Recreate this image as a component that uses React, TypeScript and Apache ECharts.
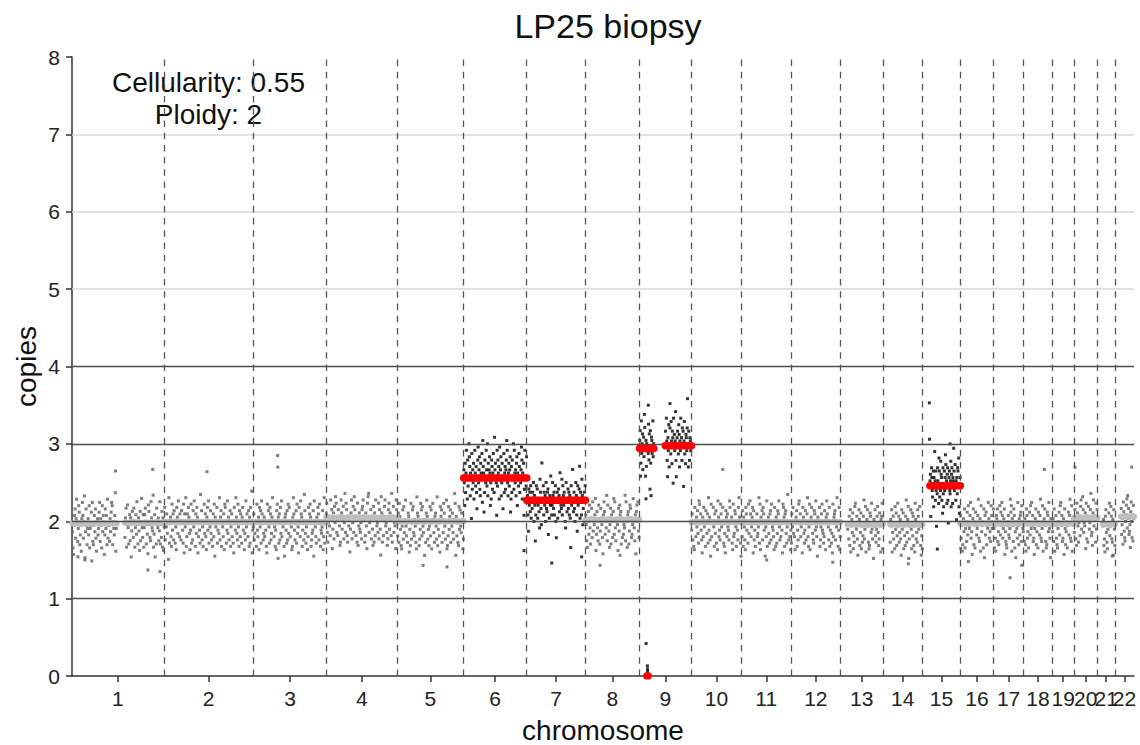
import React, { useEffect, useRef } from "react";
import * as echarts from "echarts";

// ---------------- data ----------------
const titleText = "LP25 biopsy";
const annotationLines = ["Cellularity: 0.55", "Ploidy: 2"];

const chromosomeNames = ["1","2","3","4","5","6","7","8","9","10","11","12","13","14","15","16","17","18","19","20","21","22"];
const chromosomeLengthsMb = [249.25, 243.2, 198.02, 191.15, 180.92, 171.12, 159.14, 146.36, 141.21, 135.53, 135.01, 133.85, 115.17, 107.35, 102.53, 90.35, 81.2, 78.08, 59.13, 63.03, 48.13, 51.3];

// copy-number segments (positions within chromosome, Mb)
const segmentChrom   = [1, 1, 2, 3, 4, 5, 6, 7, 8, 9, 9, 9, 9, 10, 11, 12, 13, 14, 15, 16, 17, 18, 19, 20, 21, 22];
const segmentStartMb = [0.5, 143, 0, 0, 0, 0, 0, 0, 0, 0.5, 20.5, 23.5, 70.5, 0, 0, 0, 19, 19, 20, 0, 0, 0, 0, 0, 14.5, 16];
const segmentEndMb   = [121, 249, 243.2, 198, 191, 180.9, 171.1, 159.1, 146.3, 20.5, 23.5, 39, 141, 135.5, 135, 133.8, 115.1, 107.3, 102.5, 90.3, 81.2, 78, 59.1, 63, 48.1, 51.3];
const segmentCopies  = [1.97, 1.98, 1.99, 1.99, 2.045, 2.0, 2.56, 2.27, 2.02, 2.94, 0.0, 2.94, 2.975, 1.99, 1.99, 1.99, 1.96, 1.96, 2.46, 1.97, 1.97, 1.97, 1.97, 2.045, 1.96, 2.06];
const segmentAltered = [0, 0, 0, 0, 0, 0, 1, 1, 0, 1, 1, 1, 1, 0, 0, 0, 0, 0, 1, 0, 0, 0, 0, 0, 0, 0];

// bin copy values around each segment, one base-36 character per bin:
// copies = segment copies + (code - 17.5) * 0.042
const segmentBinCodes = [
  "fa8hkmdjpicgnlbeh9jokdiq7fmhbgjenaghl6ocbhkfmd9ijeglocjhanfki8emgkbpdhhcjflonbigekr9g",
  "djmahngbhkcj7flidmiagkeohbjf9lchpgdkagkmibhe8nlhdcojgfqaek7ibmhgjcfobhdlaj9",
  "gmcigkeh6pbhjdanfkclibg9mjeohdkiclhfbn8kgpadkhmje9fnbiclgohakemj8dhfbqilcgahnekd9jmfobiglechakdn7jghmbfiepcjlahgdk9nmibfoejchlagkdib8mhfpjecngaldkhbjmfi9ecogkhdlajbmhr8fg",
  "kcehianfdj9mglbokhcejdifa8nhlgbmkcejphidgaf9lnhjbkcmeodigha7jkfblcnemhdig9ajpkfchlbneg8midokjafhcqlebgi9dmhknjacefl7ohgdbjimkcnhafegl9dpbjhk",
  "mdagifcnhk8ejblgomdhckif9anjehlbgpdmkcaifh7ejnbgldokicham9fjedgbklnhiacjf8mopdghkbie9lajcnhfgdmbke6ojaichlnfgd9bkmejhcpaildgf8nk",
  "hdkbnjfa9glcmeiogdhbkj8fanchlmedigb9pkjhacfnldmgei7hbkojcfagmdl9hniebjkgcpafhd8mjlbienkgcho9admfjlbhgkeciqn7jdhbamflgeki9c",
  "kg9mdjqhbnfisolcjh5pekgmbhqjfld8inrgkoecmjhpatlj7dnhgqkfscmhkoj9gbnlejpidukmhg6qfnjlbrhkocgmi8hpdjlekntqgcjmfko7bldnihseqjgkcmo9jhfpldigkrnbjhm6eqihfo",
  "hjd8lgkemcifkhnbjg5dmilcghe9okfatihmdkgjbnfekl7hcjgpidgnjfkdhmb6ikchljeqigfodmjgkhb9niehlfkdjc3mgirhekfbhnjd8mgilsckhdojafhkbm",
  "jgb9hkdmfailcnehgjo8dkfbmhaeligc7jnkdhfpbmie9glajhckodnfbhig8lemjkaichdgfpbnh9jkaemlicdgohfbj7kmhnec",
  "kn9dqgjmbilfsoh9kcj",
  "",
  "gpemi5nd3lkgiqfj",
  "mhqjd8kgobinhfpjcmk6qhlgjsd8ikmhfolbjgqhkdnim5jpfhclkgnwibmhdkjgi",
  "fkcia9mhdjglebonhkfc8jdmgialhekbpfjc7ndhimgakelbh9ojdfcnkgimhbae8ljdkgfcomhijb9ndelkgahfcmpjib7",
  "hdlajgc9mkfibnehokdgjm8lcfahikdegpbn9jhlcmkfi7gdoahjebklcnigfd9mhajbelkogcidhf8nmjaklebgqhcid9f",
  "bkgmeid9hjlafcnohkdgi8mjebflchkpdagn9ijmhecblkfogd7jhimacgknfebdlh9jokigcmafhbe8ndjklcigphafm9d",
  "gidkbm9hjflaecnohgkd8imjbflahcekpdgn9ijmhcablkfogdi7jhmecgknfbdlh9jkoa",
  "cjhm9fkdianglbeohkcfjd8mgilahebkpcfjn7dhimgalekbh9ojdfcmkginhb8ea",
  "jl8hnkgeimbkhsjdmg5ifnjhcqmeigplkdh9nfbimgkrohjclnd6hkmgfjpblnhckjtmgiohdj7kfnmhqb9ik",
  "kdh9bjfmagiclenhgkodf8jmbialhegkpdcj9nfhiam7kelbhgojdfcnkgim",
  "gahd9kjmcfbinelhokdgjm8fcbahikedgpln9jhcmkaf7igdohbjeklcnigf",
  "hcjb9mkdfailengohkcd8gjmbfialhekpdcgn9ijmhcablkfogd7jhi",
  "fjcm9hkdbagilenohkcdj8mgbfiahlekpdcn9jhi",
  "dkhb9mjfagiclnehokdgfj8mbialhegkpcd9jnfhiamek",
  "hjbd9kmfcagiloehnkdcj8mgb",
  "kcfh9mjdbagilneohkcdf8jmgbialh",
];

// isolated bins far from their segment
const outlierChrom   = [1, 1, 1, 1, 1, 1, 2, 3, 3, 3, 5, 5, 6, 7, 7, 8, 8, 9, 9, 9, 9, 9, 9, 9, 10, 11, 12, 14, 15, 15, 15, 15, 16, 16, 17, 17, 18, 20, 21, 22];
const outlierPosMb   = [118, 35, 16, 206, 239, 219, 117, 65.5, 66, 66.5, 70.7, 135.8, 163.5, 67.7, 149, 39.6, 94, 18, 24.3, 18.3, 21.8, 22.0, 22.2, 83, 85, 68.7, 112.8, 69, 18.6, 19.0, 40.2, 74.8, 1, 21.8, 44.6, 76.3, 56.5, 2.5, 40.7, 45];
const outlierCopies  = [2.65, 1.5, 1.54, 1.37, 1.35, 2.67, 2.64, 2.85, 2.7, 1.52, 1.43, 1.41, 1.62, 1.46, 1.54, 1.43, 1.56, 2.29, 3.5, 0.42, 0.13, 0.09, 0.06, 3.52, 2.67, 1.5, 1.47, 1.45, 3.53, 3.06, 1.64, 3.0, 1.65, 1.48, 1.27, 1.43, 2.67, 2.7, 1.55, 2.7];
const outlierAltered = [0, 0, 0, 0, 0, 0, 0, 0, 0, 0, 0, 0, 1, 1, 1, 0, 0, 1, 1, 1, 1, 1, 1, 1, 0, 0, 0, 0, 1, 1, 1, 1, 0, 0, 0, 0, 0, 0, 0, 0];

const copyTicksDark = [1, 2, 3, 4];
const copyTicksLight = [5, 6, 7];

// ---------------- derived ----------------
const FONT = '"Liberation Sans", Arial, Helvetica, sans-serif';
const CODE_CENTER = 17.5;
const CODE_STEP = 0.042;

const chromOffsets: number[] = [];
{
  let acc = 0;
  chromosomeLengthsMb.forEach((l) => {
    chromOffsets.push(acc);
    acc += l;
  });
}
const genomeLength = chromosomeLengthsMb.reduce((a, b) => a + b, 0);
const chromMids = chromosomeLengthsMb.map((l, i) => chromOffsets[i] + l / 2);
const chromBoundaries = chromOffsets.slice(1);
// labels split over two overlaid axes so that crowded neighbours are never dropped
const midsOdd = chromMids.filter((_, i) => i % 2 === 0);
const midsEven = chromMids.filter((_, i) => i % 2 === 1);

const labelFormatter = (v: number) => {
  let best = 0;
  chromMids.forEach((m, i) => {
    if (Math.abs(m - v) < Math.abs(chromMids[best] - v)) best = i;
  });
  return chromosomeNames[best];
};

function buildOption() {
  const grayPts: number[][] = [];
  const blackPts: number[][] = [];
  segmentChrom.forEach((c, s) => {
    const code = segmentBinCodes[s];
    const n = code.length;
    const off = chromOffsets[c - 1];
    const a = segmentStartMb[s];
    const b = segmentEndMb[s];
    for (let i = 0; i < n; i++) {
      const dev = (parseInt(code[i], 36) - CODE_CENTER) * CODE_STEP;
      const p = [off + a + ((i + 0.5) * (b - a)) / n, segmentCopies[s] + dev];
      (segmentAltered[s] ? blackPts : grayPts).push(p);
    }
  });
  outlierChrom.forEach((c, k) => {
    const p = [chromOffsets[c - 1] + outlierPosMb[k], outlierCopies[k]];
    (outlierAltered[k] ? blackPts : grayPts).push(p);
  });

  const segmentSeries = segmentChrom.map((c, s) => {
    const off = chromOffsets[c - 1];
    const red = segmentAltered[s] === 1;
    return {
      type: "line",
      silent: true,
      showSymbol: false,
      symbol: "none",
      clip: true,
      z: red ? 5 : 4,
      data: [
        [off + segmentStartMb[s], segmentCopies[s]],
        [off + segmentEndMb[s], segmentCopies[s]],
      ],
      lineStyle: { color: red ? "#ff0000" : "#bebebe", width: red ? 7.5 : 6, cap: "round" },
    };
  });

  const markData: any[] = [
    ...copyTicksDark.map((v) => ({ yAxis: v, lineStyle: { color: "#4d4d4d", width: 1.3, type: "solid" } })),
    ...copyTicksLight.map((v) => ({ yAxis: v, lineStyle: { color: "#d9d9d9", width: 1.5, type: "solid" } })),
    ...chromBoundaries.map((b) => ({ xAxis: b, lineStyle: { color: "#555555", width: 1.3, type: [6.5, 5.7] } })),
  ];

  const labelStyle = {
    margin: 12,
    fontSize: 21,
    color: "#222222",
    fontFamily: FONT,
    hideOverlap: false,
    formatter: labelFormatter,
  };

  return {
    animation: false,
    backgroundColor: "#ffffff",
    textStyle: { fontFamily: FONT },
    title: {
      text: titleText,
      left: 603,
      textAlign: "center",
      top: 4,
      textStyle: { fontSize: 34, fontWeight: "normal", color: "#111111", fontFamily: FONT },
    },
    grid: { left: 72, right: 6, top: 57, bottom: 69, containLabel: false, outerBoundsMode: "none" },
    xAxis: [
      {
        type: "value",
        min: 0,
        max: genomeLength,
        position: "bottom",
        name: "chromosome",
        nameLocation: "middle",
        nameGap: 40,
        nameMoveOverlap: false,
        nameTextStyle: { fontSize: 28, color: "#111111", fontFamily: FONT },
        axisLine: { show: true, onZero: false, lineStyle: { color: "#333333", width: 1.5 } },
        axisTick: { show: true, customValues: chromMids, length: 6, lineStyle: { color: "#333333", width: 1.5 } },
        axisLabel: { ...labelStyle, customValues: midsOdd },
        splitLine: { show: false },
      },
      {
        type: "value",
        min: 0,
        max: genomeLength,
        position: "bottom",
        offset: 0,
        axisLine: { show: false, onZero: false },
        axisTick: { show: false },
        axisLabel: { ...labelStyle, customValues: midsEven },
        splitLine: { show: false },
      },
    ],
    yAxis: {
      type: "value",
      min: 0,
      max: 8,
      interval: 1,
      name: "copies",
      nameLocation: "middle",
      nameGap: 32,
      nameRotate: 90,
      nameMoveOverlap: false,
      nameTextStyle: { fontSize: 28, color: "#111111", fontFamily: FONT },
      axisLine: { show: true, lineStyle: { color: "#333333", width: 1.5 } },
      axisTick: { show: true, length: 6, lineStyle: { color: "#333333", width: 1.5 } },
      axisLabel: { margin: 12, fontSize: 21, color: "#222222", fontFamily: FONT },
      splitLine: { show: false },
    },
    graphic: annotationLines.map((t, i) => ({
      type: "text",
      x: 208.5,
      y: 82 + i * 32,
      silent: true,
      style: {
        text: t,
        fill: "#111111",
        fontSize: 28,
        fontFamily: FONT,
        align: "center",
        verticalAlign: "middle",
        textAlign: "center",
        textVerticalAlign: "middle",
      },
    })),
    series: [
      {
        type: "scatter",
        data: [],
        z: 1,
        silent: true,
        markLine: { silent: true, symbol: ["none", "none"], label: { show: false }, data: markData, animation: false },
      },
      {
        type: "scatter",
        data: grayPts,
        z: 2,
        silent: true,
        symbol: "rect",
        symbolSize: 3,
        itemStyle: { color: "#5e5e5e" },
      },
      {
        type: "scatter",
        data: blackPts,
        z: 3,
        silent: true,
        symbol: "rect",
        symbolSize: 3,
        itemStyle: { color: "#000000" },
      },
      ...segmentSeries,
    ],
  };
}

export default function App() {
  const ref = useRef<HTMLDivElement>(null);
  useEffect(() => {
    if (!ref.current) return;
    const chart = echarts.init(ref.current, undefined, { renderer: "svg" });
    chart.setOption(buildOption() as any);
    return () => chart.dispose();
  }, []);
  return (
    <div
      ref={ref}
      style={{ position: "fixed", left: 0, top: 0, width: 1140, height: 745, background: "#ffffff" }}
    />
  );
}
